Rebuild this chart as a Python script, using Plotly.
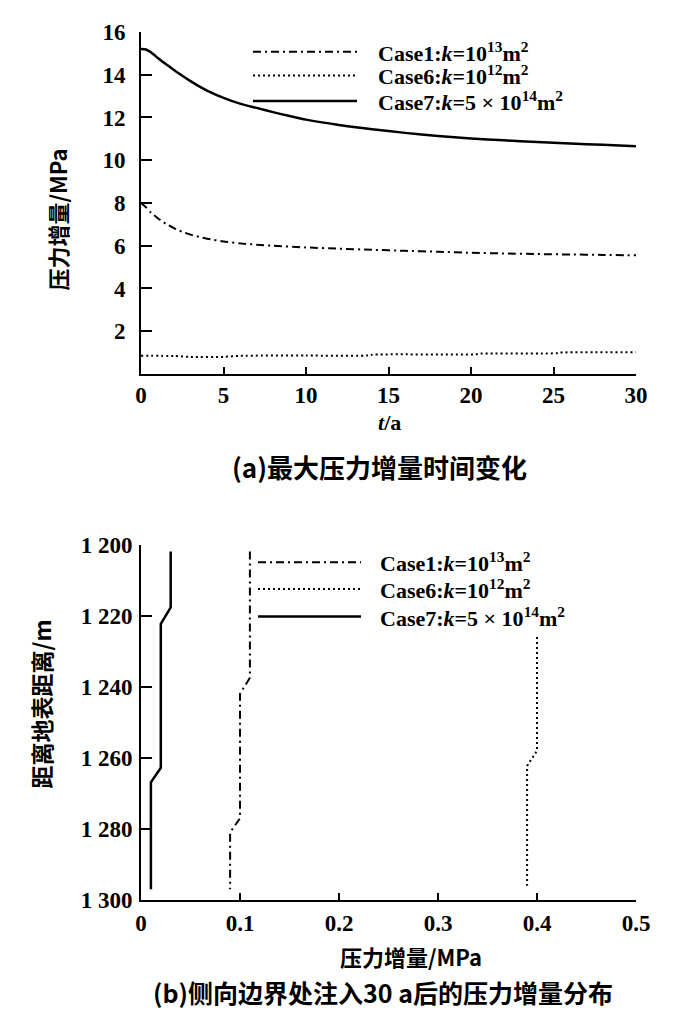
import plotly.graph_objects as go

# ---------------- data: (a) maximum pressure increment vs time ----------------
t_case1 = [0, 0.3, 0.6, 1, 1.5, 2, 2.5, 3, 3.5, 4, 5, 6, 7, 8, 10, 12, 14, 16, 18, 20, 22, 24, 26, 28, 30]
p_case1 = [8.0, 7.8, 7.55, 7.3, 7.03, 6.82, 6.65, 6.52, 6.42, 6.33, 6.2, 6.11, 6.05, 6.0, 5.92,
           5.86, 5.81, 5.76, 5.72, 5.67, 5.64, 5.61, 5.59, 5.57, 5.55]

t_case6 = [0, 2, 3, 5, 6, 10, 13.9, 14, 20.3, 20.5, 25.2, 25.4, 30]
p_case6 = [0.85, 0.84, 0.80, 0.80, 0.85, 0.86, 0.87, 0.90, 0.92, 0.95, 0.97, 1.0, 1.02]

t_case7 = [0, 0.3, 0.6, 1, 1.5, 2, 2.5, 3, 3.5, 4, 5, 6, 7, 8, 9, 10, 12, 14, 16, 18, 20, 22,
           24, 26, 28, 30]
p_case7 = [15.2, 15.18, 15.05, 14.8, 14.5, 14.22, 13.95, 13.7, 13.47, 13.26, 12.92, 12.65,
           12.45, 12.25, 12.07, 11.9, 11.65, 11.45, 11.28, 11.13, 11.02, 10.93, 10.85, 10.78,
           10.72, 10.66]

# ---------------- data: (b) pressure increment profile at lateral boundary ----------------
d_case1 = [1202, 1237.5, 1242, 1277, 1281, 1297]
x_case1 = [0.11, 0.11, 0.10, 0.10, 0.09, 0.09]

d_case6 = [1226, 1258, 1262.3, 1296]
x_case6 = [0.40, 0.40, 0.39, 0.39]

d_case7 = [1202, 1217.7, 1222.3, 1262.8, 1266.9, 1297]
x_case7 = [0.03, 0.03, 0.02, 0.02, 0.01, 0.01]

legend_labels = [
    "Case1:<i>k</i>=10<sup>13</sup>m<sup>2</sup>",
    "Case6:<i>k</i>=10<sup>12</sup>m<sup>2</sup>",
    "Case7:<i>k</i>=5 × 10<sup>14</sup>m<sup>2</sup>",
]
dashes = ["8px,4px,2px,4px", "2px,3px", "solid"]
widths = [2.0, 2.0, 2.5]

top_yticks = [2, 4, 6, 8, 10, 12, 14, 16]
top_xticks = [0, 5, 10, 15, 20, 25, 30]
bot_yticks = [1200, 1220, 1240, 1260, 1280, 1300]
bot_yticktext = ["1 200", "1 220", "1 240", "1 260", "1 280", "1 300"]
bot_xticks = [0, 0.1, 0.2, 0.3, 0.4, 0.5]
bot_xticktext = ["0", "0.1", "0.2", "0.3", "0.4", "0.5"]

# ---------------- layout geometry (screen pixels) ----------------
W, H = 700, 1035
OFF = 8  # page offset of the figure inside the browser window
X0, X1 = 141, 636       # plot area left / right on screen
YTOP, Y0 = 21, 900      # plot area top / bottom on screen
L, R = X0 - OFF, W + OFF - X1
T, B = YTOP - OFF, H + OFF - Y0
PW, PH = W - L - R, H - T - B


def px(xp):
    return (xp - X0) / PW


def py(yp):
    return (Y0 - yp) / PH


FONT = "Liberation Serif, Noto Sans CJK SC, serif"
CJK = "Noto Sans CJK SC, Liberation Serif"

fig = go.Figure()

for t, p, d, w in zip([t_case1, t_case6, t_case7], [p_case1, p_case6, p_case7], dashes, widths):
    fig.add_trace(go.Scatter(x=t, y=p, mode="lines", xaxis="x", yaxis="y",
                             line=dict(color="black", width=w, dash=d, shape="spline",
                                       smoothing=0.6), showlegend=False))

for xv, dv, d, w in zip([x_case1, x_case6, x_case7], [d_case1, d_case6, d_case7], dashes, widths):
    fig.add_trace(go.Scatter(x=xv, y=dv, mode="lines", xaxis="x2", yaxis="y2",
                             line=dict(color="black", width=w, dash=d), showlegend=False))

axis_common = dict(showgrid=False, zeroline=False, showline=True, linecolor="black",
                   linewidth=2, ticks="inside", tickcolor="black", tickwidth=1.5,
                   tickfont=dict(family=FONT, size=23, color="black", weight="bold"))

top_dom = [py(367.3), 1.0]
bot_dom = [0.0, py(540)]

fig.update_layout(
    width=W, height=H,
    margin=dict(l=L, r=R, t=T, b=B),
    plot_bgcolor="white", paper_bgcolor="white",
    showlegend=False,
    xaxis=dict(domain=[0, 1], anchor="y", range=[0, 30], tickvals=top_xticks,
               ticklen=7, ticklabelstandoff=-1, **axis_common),
    yaxis=dict(domain=top_dom, anchor="x", range=[0, 16], tickvals=top_yticks,
               ticklen=11, ticklabelstandoff=9, **axis_common),
    xaxis2=dict(domain=[0, 1], anchor="y2", range=[0, 0.5], tickvals=bot_xticks,
                ticktext=bot_xticktext, ticklen=7, ticklabelstandoff=1, **axis_common),
    yaxis2=dict(domain=bot_dom, anchor="x2", range=[1300, 1200], tickvals=bot_yticks,
                ticktext=bot_yticktext, ticklen=11, ticklabelstandoff=2, **axis_common),
)

ann = []


def add_text(text, x, y, size, family=FONT, angle=0, xanchor="center"):
    ann.append(dict(text=text, x=px(x), y=py(y), xref="paper", yref="paper",
                    showarrow=False, textangle=angle, xanchor=xanchor, yanchor="middle",
                    font=dict(family=family, size=size, color="black", weight="bold")))


add_text("<i>t</i>/a", 389, 416, 22)
add_text("(a)最大压力增量时间变化", 379, 461, 26, family=CJK)
add_text("压力增量/MPa", 57, 211, 22, family=CJK, angle=-90)
add_text("压力增量/MPa", 411, 957, 22, family=CJK)
add_text("(b)侧向边界处注入30 a后的压力增量分布", 383, 993, 25, family=CJK)
add_text("距离地表距离/m", 41, 702, 23, family=CJK, angle=-90)

shapes = []
for rows, x0, x1, xt in [([41, 65, 91], 253, 357, 376), ([558, 585, 613], 258, 361, 378)]:
    for yy, lab, d, w in zip(rows, legend_labels, dashes, widths):
        shapes.append(dict(type="line", xref="paper", yref="paper",
                           x0=px(x0), x1=px(x1), y0=py(yy), y1=py(yy),
                           line=dict(color="black", width=w, dash=d)))
        add_text(lab, xt, yy, 22, xanchor="left")

fig.update_layout(annotations=ann, shapes=shapes)

fig.write_html("out.html")
